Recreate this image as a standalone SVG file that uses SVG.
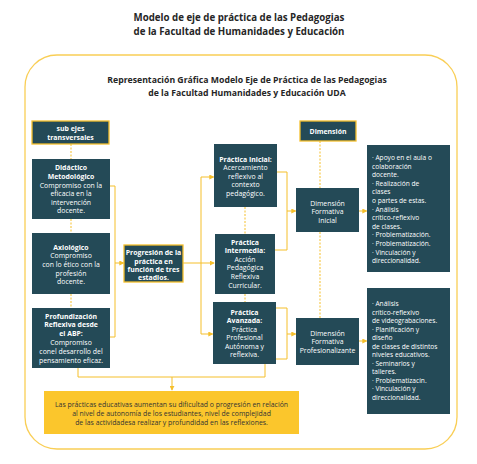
<svg xmlns="http://www.w3.org/2000/svg" width="477" height="464" viewBox="0 0 477 464">
<style>
text{font-family:"Open Sans","Liberation Sans",sans-serif}
.t{font-weight:700;fill:#262626;text-anchor:middle}
.box{fill:#244A57}
.hbox{fill:#244A57;stroke:#F5BF2B;stroke-width:1.3}
.w{fill:#fff;font-size:6.9px;text-anchor:middle}
.b{font-weight:700}
.l{fill:#fff;font-size:6.6px}
.c{fill:none;stroke:#F5BF2B;stroke-width:1}
.d{fill:none;stroke:#F5BF2B;stroke-width:1;stroke-dasharray:2 1.5}
.a{fill:none;stroke:#F5BF2B;stroke-width:1;marker-end:url(#ah)}
</style>
<defs>
<marker id="ah" viewBox="0 0 6 6" refX="5" refY="3" markerWidth="5" markerHeight="5" orient="auto" markerUnits="userSpaceOnUse">
<path d="M0,0 L6,3 L0,6 Z" fill="#F5BF2B"/>
</marker>
</defs>
<rect width="477" height="464" fill="#fff"/>
<text class="t" x="239" y="21" font-size="9.7">Modelo de eje de práctica de las Pedagogias</text>
<text class="t" x="239" y="35" font-size="9.7">de la Facultad de Humanidades y Educación</text>
<rect x="25" y="55" width="432" height="394" rx="32" fill="none" stroke="#F9CE55" stroke-width="1.3"/>
<text class="t" x="247" y="83" font-size="8.7">Representación Gráfica Modelo Eje de Práctica de las Pedagogias</text>
<text class="t" x="247" y="96" font-size="8.7">de la Facultad Humanidades y Educación UDA</text>

<g id="connectors">
<path class="d" d="M71,144 V159 M71,219 V233 M71,294 V308"/>
<path class="c" d="M110,186 H115 V337 H110"/>
<path class="a" d="M115,263 H123.5"/>
<path class="a" d="M183,263 H214"/>
<path class="c" d="M201,177 V334"/>
<path class="a" d="M201,177 H213.5"/>
<path class="a" d="M201,334 H212.5"/>
<path class="d" d="M245,207 V234 M245,294 V302"/>
<path class="c" d="M277,172 H287 V250 H275"/>
<path class="a" d="M287,211 H295.5"/>
<path class="c" d="M276,308 H287 V359 H276"/>
<path class="a" d="M287,334 H295.5"/>
<path class="c" d="M78,368 V377 H265 V364"/>
<path class="a" d="M172,377 V390"/>
<path class="d" d="M320,141 V188 M320,232 V318"/>
<path class="a" d="M359,211 H366.5"/>
<path class="a" d="M359,341 H366.5"/>
</g>

<g id="sub-ejes">
<rect class="hbox" x="32" y="121" width="77" height="23"/>
<text class="w b" x="70.5" y="131">sub ejes</text>
<text class="w b" x="70.5" y="139.5">transversales</text>
</g>
<g id="didactico">
<rect class="box" x="32" y="159" width="78" height="60"/>
<text class="w" x="71" y="169.5"><tspan class="b">Didáctico</tspan><tspan class="b" x="71" dy="9">Metodológico</tspan><tspan x="71" dy="9">Compromiso con la</tspan><tspan x="71" dy="8.6">eficacia en la</tspan><tspan x="71" dy="8.6">intervención</tspan><tspan x="71" dy="8.6">docente.</tspan></text>
</g>
<g id="axiologico">
<rect class="box" x="32" y="233" width="78" height="61"/>
<text class="w" x="71" y="249.5"><tspan class="b">Axiológico</tspan><tspan x="71" dy="8.7">Compromiso</tspan><tspan x="71" dy="8.7">con lo ético con la</tspan><tspan x="71" dy="8.7">profesión</tspan><tspan x="71" dy="8.7">docente.</tspan></text>
</g>
<g id="profundizacion">
<rect class="box" x="32" y="308" width="78" height="60"/>
<text class="w" x="71" y="318.5"><tspan class="b">Profundización</tspan><tspan class="b" x="71" dy="8.8">Reflexiva desde</tspan><tspan class="b" x="71" dy="8.8">el ABP:</tspan><tspan x="71" dy="8.8">Compromiso</tspan><tspan x="71" dy="8.8">conel desarrollo del</tspan><tspan x="71" dy="8.8">pensamiento eficaz.</tspan></text>
</g>
<g id="progresion">
<rect class="hbox" x="124" y="245" width="59" height="37"/>
<text class="w b" x="153.5" y="255.2"><tspan>Progresión de la</tspan><tspan x="153.5" dy="8.3">práctica en</tspan><tspan x="153.5" dy="8.3">función de tres</tspan><tspan x="153.5" dy="8.3">estadios.</tspan></text>
</g>
<g id="practica-inicial">
<rect class="box" x="214" y="144" width="63" height="63"/>
<text class="w" x="245.5" y="161.5"><tspan class="b">Práctica Inicial:</tspan><tspan x="245.5" dy="8.6">Acercamiento</tspan><tspan x="245.5" dy="8.6">reflexivo al</tspan><tspan x="245.5" dy="8.6">contexto</tspan><tspan x="245.5" dy="8.6">pedagógico.</tspan></text>
</g>
<g id="practica-intermedia">
<rect class="box" x="215" y="234" width="60" height="60"/>
<text class="w" x="245" y="244.5"><tspan class="b">Práctica</tspan><tspan class="b" x="245" dy="8.6">Intermedia:</tspan><tspan x="245" dy="8.6">Acción</tspan><tspan x="245" dy="8.6">Pedagógica</tspan><tspan x="245" dy="8.6">Reflexiva</tspan><tspan x="245" dy="8.6">Curricular.</tspan></text>
</g>
<g id="practica-avanzada">
<rect class="box" x="213" y="302" width="63" height="62"/>
<text class="w" x="244.5" y="314.5"><tspan class="b">Práctica</tspan><tspan class="b" x="244.5" dy="8.5">Avanzada:</tspan><tspan x="244.5" dy="8.5">Práctica</tspan><tspan x="244.5" dy="8.5">Profesional</tspan><tspan x="244.5" dy="8.5">Autónoma y</tspan><tspan x="244.5" dy="8.5">reflexiva.</tspan></text>
</g>
<g id="dimension">
<rect class="hbox" x="300" y="121" width="56" height="20"/>
<text class="w b" x="328" y="133.5">Dimensión</text>
</g>
<g id="dim-inicial">
<rect class="box" x="296" y="188" width="63" height="44"/>
<text class="w" x="327.5" y="205.5"><tspan>Dimensión</tspan><tspan x="327.5" dy="8.6">Formativa</tspan><tspan x="327.5" dy="8.6">Inicial</tspan></text>
</g>
<g id="dim-profesionalizante">
<rect class="box" x="296" y="318" width="63" height="47"/>
<text class="w" x="327.5" y="335.5"><tspan>Dimensión</tspan><tspan x="327.5" dy="8.6">Formativa</tspan><tspan x="327.5" dy="8.6">Profesionalizante</tspan></text>
</g>
<g id="lista-inicial">
<rect class="box" x="367" y="145" width="83" height="127"/>
<text class="l" x="372" y="160"><tspan>· Apoyo en el aula o</tspan><tspan x="372" dy="8.6">colaboración</tspan><tspan x="372" dy="8.6">docente.</tspan><tspan x="372" dy="8.6">· Realización de</tspan><tspan x="372" dy="8.6">clases</tspan><tspan x="372" dy="8.6">o partes de estas.</tspan><tspan x="372" dy="8.6">· Análisis</tspan><tspan x="372" dy="8.6">crítico-reflexivo</tspan><tspan x="372" dy="8.6">de clases.</tspan><tspan x="372" dy="8.6">· Problematización.</tspan><tspan x="372" dy="8.6">· Problematización.</tspan><tspan x="372" dy="8.6">· Vinculación y</tspan><tspan x="372" dy="8.6">direccionalidad.</tspan></text>
</g>
<g id="lista-profesionalizante">
<rect class="box" x="367" y="288" width="83" height="126"/>
<text class="l" x="372" y="306"><tspan>· Análisis</tspan><tspan x="372" dy="8.5">crítico-reflexivo</tspan><tspan x="372" dy="8.5">de videograbaciones.</tspan><tspan x="372" dy="8.5">· Planificación y</tspan><tspan x="372" dy="8.5">diseño</tspan><tspan x="372" dy="8.5">de clases de distintos</tspan><tspan x="372" dy="8.5">niveles educativos.</tspan><tspan x="372" dy="8.5">· Seminarios y</tspan><tspan x="372" dy="8.5">talleres.</tspan><tspan x="372" dy="8.5">· Problematizacin.</tspan><tspan x="372" dy="8.5">· Vinculación y</tspan><tspan x="372" dy="8.5">direccionalidad.</tspan></text>
</g>
<g id="nota">
<rect x="44" y="391" width="255" height="43" fill="#FBC62C"/>
<text x="171.5" y="406.5" font-size="6.9" fill="#333" text-anchor="middle"><tspan>Las prácticas educativas aumentan su dificultad o progresión en relación</tspan><tspan x="171.5" dy="9">al nivel de autonomía de los estudiantes, nivel de complejidad</tspan><tspan x="171.5" dy="9">de las actividadesa realizar y profundidad en las reflexiones.</tspan></text>
</g>
</svg>
